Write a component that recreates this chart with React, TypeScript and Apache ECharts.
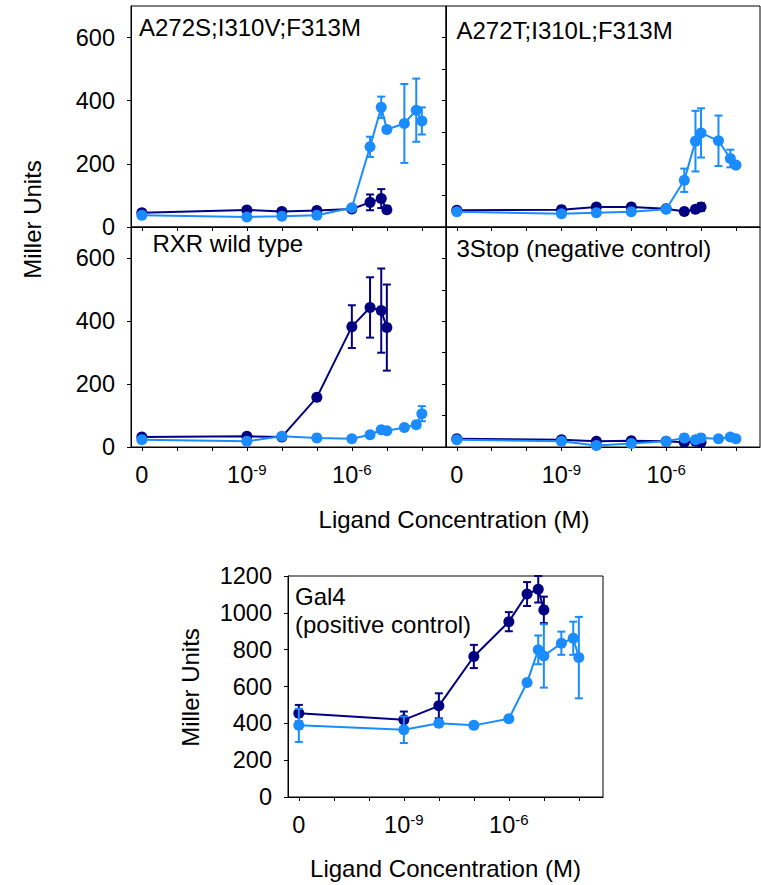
import React, { useEffect, useRef } from "react";
import * as echarts from "echarts";

// log10 concentration; -12 stands for "0"
const concDark = [-12, -9, -8, -7, -6, -5.48, -5.16, -5];
const concLight = [-12, -9, -8, -7, -6, -5.48, -5.16, -5, -4.5, -4.16, -4];

const xTicks = [-12, -11, -10, -9, -8, -7, -6, -5, -4];
const xLabels = [-12, -9, -6];

// A272S;I310V;F313M
const a272sDark = [45, 54, 49, 52, 57, 78, 90, 55];
const a272sDarkErr = [5, 5, 5, 5, 8, 25, 30, 10];
const a272sLight = [37, 32, 34, 37, 61, 254, 379, 309, 328, 370, 336];
const a272sLightErr = [5, 5, 5, 5, 5, 32, 34, 8, 125, 100, 43];

// A272T;I310L;F313M
const a272tDark = [53, 55, 63, 63, 58, 49, 56, 63];
const a272tDarkErr = [5, 5, 10, 10, 5, 5, 8, 12];
const a272tLight = [48, 42, 45, 48, 56, 148, 272, 298, 273, 217, 196];
const a272tLightErr = [5, 5, 5, 5, 5, 37, 96, 78, 80, 28, 8];

// RXR wild type
const rxrDark = [32, 34, 32, 158, 383, 444, 434, 380];
const rxrDarkErr = [5, 5, 5, 8, 68, 96, 134, 137];
const rxrLight = [23, 18, 34, 29, 26, 39, 55, 52, 62, 71, 106];
const rxrLightErr = [5, 5, 5, 5, 5, 5, 5, 5, 5, 10, 24];

// 3Stop (negative control)
const stopDark = [26, 23, 18, 20, 18, 15, 18, 15];
const stopDarkErr = [4, 4, 4, 4, 4, 4, 4, 4];
const stopLight = [23, 18, 5, 11, 18, 29, 23, 29, 26, 32, 26];
const stopLightErr = [4, 4, 4, 4, 4, 4, 4, 4, 4, 4, 4];

// Gal4 (positive control)
const gal4Dark = [455, 419, 495, 763, 952, 1102, 1128, 1016];
const gal4DarkErr = [45, 45, 68, 63, 52, 65, 72, 72];
const gal4Light = [389, 365, 401, 389, 425, 622, 799, 766, 835, 862, 757];
const gal4LightErr = [90, 72, 10, 10, 10, 10, 78, 172, 63, 90, 221];

const yTicksLabeled = [0, 200, 400, 600];
const yTicksMinor = [0, 100, 200, 300, 400, 500, 600];
const gal4YTicks = [0, 200, 400, 600, 800, 1000, 1200];

const DARK = "#000080";
const LIGHT = "#1a8cff";
const FONT = "'Liberation Sans', Arial, sans-serif";

export default function App() {
  const ref = useRef<HTMLDivElement>(null);
  useEffect(() => {
    if (!ref.current) return;
    const chart = echarts.init(ref.current, null, { renderer: "svg" });

    const panels = [
      { grid: { left: 131, top: 6, width: 315, height: 221 }, ymax: 700, yLabels: true, xLabels: false, dark: a272sDark, darkErr: a272sDarkErr, light: a272sLight, lightErr: a272sLightErr },
      { grid: { left: 446, top: 6, width: 314, height: 221 }, ymax: 700, yLabels: false, xLabels: false, dark: a272tDark, darkErr: a272tDarkErr, light: a272tLight, lightErr: a272tLightErr },
      { grid: { left: 131, top: 227, width: 315, height: 220 }, ymax: 700, yLabels: true, xLabels: true, dark: rxrDark, darkErr: rxrDarkErr, light: rxrLight, lightErr: rxrLightErr },
      { grid: { left: 446, top: 227, width: 314, height: 220 }, ymax: 700, yLabels: false, xLabels: true, dark: stopDark, darkErr: stopDarkErr, light: stopLight, lightErr: stopLightErr },
      { grid: { left: 288, top: 576, width: 315, height: 221 }, ymax: 1200, yLabels: true, xLabels: true, dark: gal4Dark, darkErr: gal4DarkErr, light: gal4Light, lightErr: gal4LightErr, gal4: true },
    ];

    const grids: any[] = [];
    const xAxes: any[] = [];
    const yAxes: any[] = [];
    const series: any[] = [];

    const errRender = (color: string) => (params: any, api: any) => {
      const x = api.value(0);
      const y = api.value(1);
      const e = api.value(2);
      const t = api.coord([x, y + e]);
      const b = api.coord([x, y - e]);
      const w = 4;
      const style = { stroke: color, lineWidth: 2 };
      return {
        type: "group",
        children: [
          { type: "line", shape: { x1: t[0], y1: t[1], x2: b[0], y2: b[1] }, style },
          { type: "line", shape: { x1: t[0] - w, y1: t[1], x2: t[0] + w, y2: t[1] }, style },
          { type: "line", shape: { x1: b[0] - w, y1: b[1], x2: b[0] + w, y2: b[1] }, style },
        ],
      };
    };

    panels.forEach((p: any, i) => {
      grids.push({ ...p.grid, show: true, borderColor: "#000", borderWidth: 1, backgroundColor: "transparent", containLabel: false });
      xAxes.push({
        type: "value",
        gridIndex: i,
        min: -12.31,
        max: -3.31,
        axisLine: { show: true, onZero: false, lineStyle: { color: "#000", width: 1 } },
        axisTick: { show: true, length: 4, customValues: xTicks, lineStyle: { color: "#000" } },
        splitLine: { show: false },
        axisLabel: {
          show: p.xLabels,
          customValues: xLabels,
          margin: 15,
          formatter: (v: number) => (v <= -11.9 ? "{n|0}" : `{n|10}{s|${Math.round(v)}}`),
          rich: {
            n: { fontSize: 23.5, lineHeight: 26, fontFamily: FONT, color: "#000" },
            s: { fontSize: 15, lineHeight: 13, verticalAlign: "top", fontFamily: FONT, color: "#000" },
          },
        },
      });
      const ticks = p.gal4 ? gal4YTicks : p.yLabels ? yTicksLabeled : yTicksMinor;
      yAxes.push({
        type: "value",
        gridIndex: i,
        min: 0,
        max: p.ymax,
        axisLine: { show: true, onZero: false, lineStyle: { color: "#000", width: 1 } },
        axisTick: { show: true, length: 4, customValues: ticks, lineStyle: { color: "#000" } },
        splitLine: { show: false },
        axisLabel: {
          show: p.yLabels,
          customValues: p.gal4 ? gal4YTicks : yTicksLabeled,
          margin: 16,
          fontSize: 23.5,
          fontFamily: FONT,
          color: "#000",
          formatter: (v: number) => String(v),
        },
      });
      const mk = (xs: number[], ys: number[], errs: number[], color: string, z: number) => {
        series.push({
          type: "custom",
          xAxisIndex: i,
          yAxisIndex: i,
          z,
          renderItem: errRender(color),
          encode: { x: 0, y: 1 },
          data: xs.map((x, k) => [x, ys[k], errs[k]]),
        });
        series.push({
          type: "line",
          xAxisIndex: i,
          yAxisIndex: i,
          z: z + 1,
          symbol: "circle",
          symbolSize: 11,
          lineStyle: { color, width: 2 },
          itemStyle: { color },
          data: xs.map((x, k) => [x, ys[k]]),
        });
      };
      mk(concDark, p.dark, p.darkErr, DARK, 2);
      mk(concLight, p.light, p.lightErr, LIGHT, 4);
    });

    const txt = (text: string, x: number, y: number, extra: any = {}) => ({
      type: "text",
      x,
      y,
      ...extra,
      style: { text, fontSize: 24, fontFamily: FONT, fill: "#000", textAlign: extra.align || "left", textVerticalAlign: "middle" },
    });

    chart.setOption({
      animation: false,
      backgroundColor: "#fff",
      grid: grids,
      xAxis: xAxes,
      yAxis: yAxes,
      series,
      graphic: [
        txt("A272S;I310V;F313M", 139, 27),
        txt("A272T;I310L;F313M", 456.5, 30),
        txt("RXR wild type", 152.5, 243),
        txt("3Stop (negative control)", 456.5, 248),
        txt("Gal4", 295, 596),
        txt("(positive control)", 295, 624),
        txt("Ligand Concentration (M)", 454, 519, { align: "center" }),
        txt("Ligand Concentration (M)", 445.5, 868, { align: "center" }),
        txt("Miller Units", 32.5, 219.5, { align: "center", rotation: Math.PI / 2 }),
        txt("Miller Units", 190.5, 687.5, { align: "center", rotation: Math.PI / 2 }),
      ],
    });
    return () => chart.dispose();
  }, []);
  return <div ref={ref} style={{ position: "absolute", left: 0, top: 0, width: 761, height: 885, background: "#fff" }} />;
}
